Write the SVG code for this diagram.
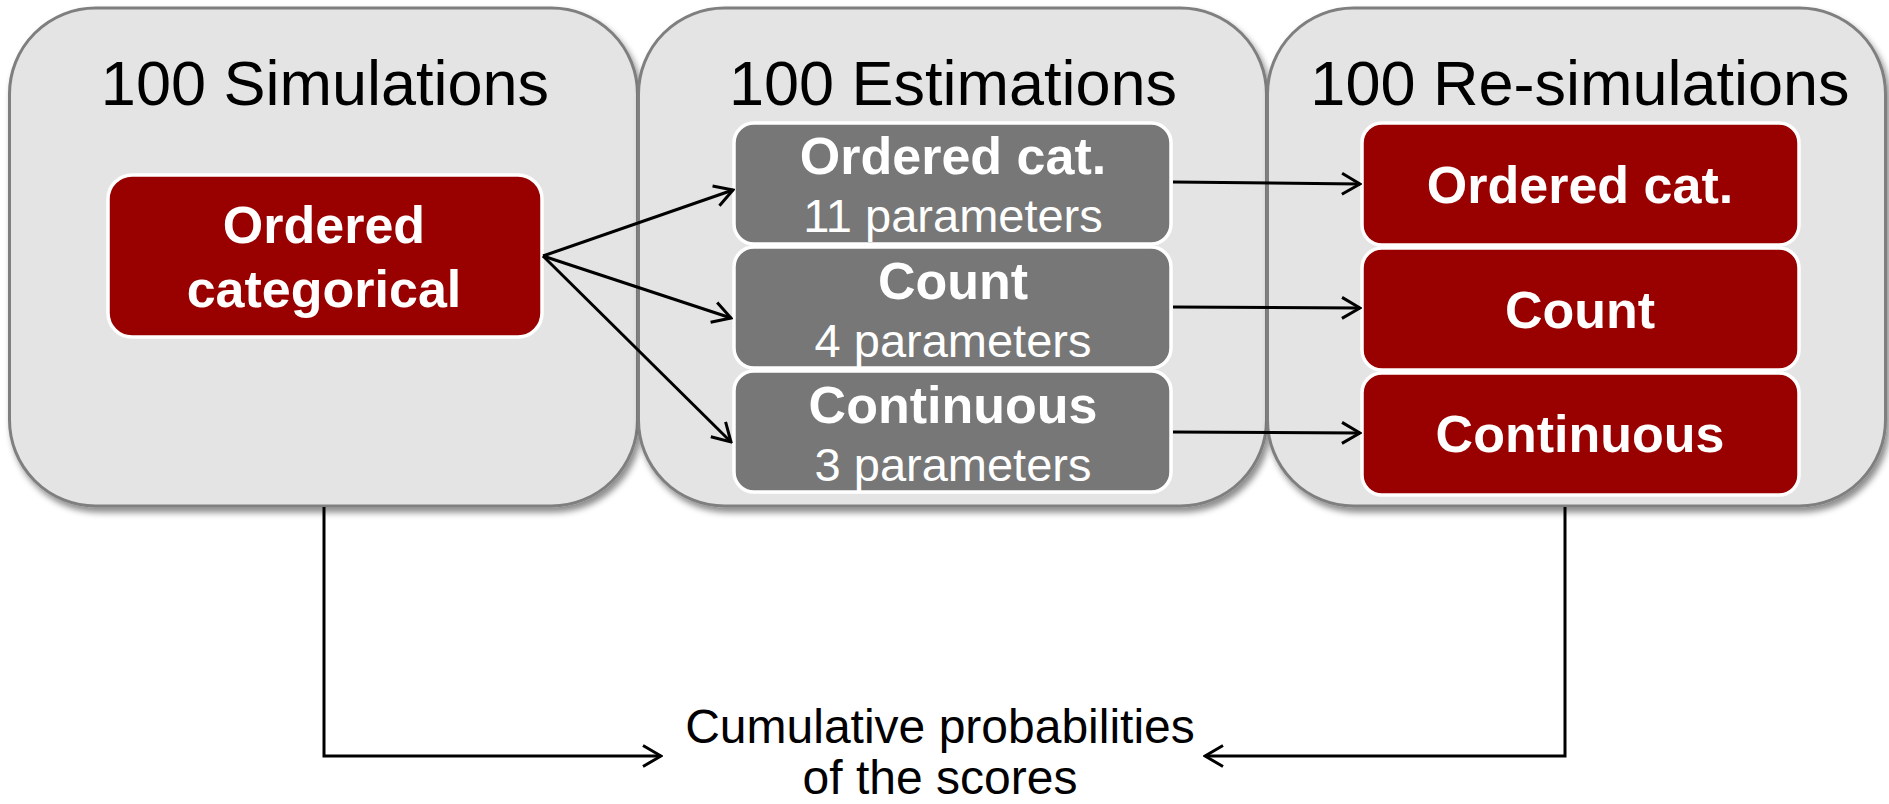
<svg xmlns="http://www.w3.org/2000/svg" width="1889" height="804" viewBox="0 0 1889 804">
  <style>
    .panel { fill: #e4e4e4; stroke: #7f7f7f; stroke-width: 3; }
    .title { font-family: "Liberation Sans", Arial, sans-serif; font-size: 63px; fill: #000; text-anchor: middle; }
    .red { fill: #990000; stroke: #ffffff; stroke-width: 3.5; }
    .gray { fill: #777777; stroke: #ffffff; stroke-width: 3.5; }
    .bold { font-family: "Liberation Sans", Arial, sans-serif; font-size: 52px; font-weight: bold; fill: #ffffff; text-anchor: middle; }
    .reg { font-family: "Liberation Sans", Arial, sans-serif; font-size: 47px; fill: #ffffff; text-anchor: middle; }
    .label { font-family: "Liberation Sans", Arial, sans-serif; font-size: 48px; fill: #000; text-anchor: middle; }
    .conn { stroke: #000; stroke-width: 3; fill: none; marker-end: url(#arrow); }
  </style>
  <defs>
    <filter id="shadow" x="-5%" y="-5%" width="115%" height="115%">
      <feDropShadow dx="3" dy="5" stdDeviation="3" flood-color="#000" flood-opacity="0.45"/>
    </filter>
    <marker id="arrow" markerUnits="userSpaceOnUse" viewBox="0 0 22 24" markerWidth="22" markerHeight="24" refX="20" refY="12" orient="auto">
      <path d="M2,1.5 L20,12 L2,22.5" fill="none" stroke="#000" stroke-width="3"/>
    </marker>
  </defs>
  <rect width="1889" height="804" fill="#ffffff"/>

  <g id="panel-simulations">
    <rect class="panel" x="9.5" y="8" width="628" height="498" rx="86" ry="86" filter="url(#shadow)"/>
    <text class="title" x="325" y="105">100 Simulations</text>
  </g>
  <g id="panel-estimations">
    <rect class="panel" x="638.5" y="8" width="628" height="498" rx="86" ry="86" filter="url(#shadow)"/>
    <text class="title" x="953" y="105">100 Estimations</text>
  </g>
  <g id="panel-resimulations">
    <rect class="panel" x="1267.5" y="8" width="618" height="498" rx="86" ry="86" filter="url(#shadow)"/>
    <text class="title" x="1580" y="105">100 Re-simulations</text>
  </g>

  <g id="sim-ordered-categorical">
    <rect class="red" x="108" y="175" width="434" height="162" rx="24" ry="24"/>
    <text class="bold" x="324" y="243">Ordered</text>
    <text class="bold" x="324" y="307">categorical</text>
  </g>

  <g id="est-ordered-cat">
    <rect class="gray" x="734" y="123" width="437" height="121" rx="20" ry="20"/>
    <text class="bold" x="953" y="174">Ordered cat.</text>
    <text class="reg" x="953" y="232">11 parameters</text>
  </g>
  <g id="est-count">
    <rect class="gray" x="734" y="247" width="437" height="121" rx="20" ry="20"/>
    <text class="bold" x="953" y="299">Count</text>
    <text class="reg" x="953" y="357">4 parameters</text>
  </g>
  <g id="est-continuous">
    <rect class="gray" x="734" y="371" width="437" height="121" rx="20" ry="20"/>
    <text class="bold" x="953" y="423">Continuous</text>
    <text class="reg" x="953" y="481">3 parameters</text>
  </g>

  <g id="resim-ordered-cat">
    <rect class="red" x="1362" y="123" width="437" height="122" rx="20" ry="20"/>
    <text class="bold" x="1580" y="203">Ordered cat.</text>
  </g>
  <g id="resim-count">
    <rect class="red" x="1362" y="248" width="437" height="122" rx="20" ry="20"/>
    <text class="bold" x="1580" y="328">Count</text>
  </g>
  <g id="resim-continuous">
    <rect class="red" x="1362" y="373" width="437" height="122" rx="20" ry="20"/>
    <text class="bold" x="1580" y="452">Continuous</text>
  </g>

  <g id="result-label">
    <text class="label" x="940" y="743">Cumulative probabilities</text>
    <text class="label" x="940" y="794">of the scores</text>
  </g>

  <g id="connectors">
    <line class="conn" x1="543" y1="256" x2="733" y2="190"/>
    <line class="conn" x1="543" y1="256" x2="731" y2="318"/>
    <line class="conn" x1="543" y1="256" x2="731" y2="442"/>
    <line class="conn" x1="1173" y1="182" x2="1360" y2="184"/>
    <line class="conn" x1="1173" y1="307" x2="1360" y2="308"/>
    <line class="conn" x1="1173" y1="432" x2="1360" y2="433"/>
    <polyline class="conn" points="324,507 324,756 661,756"/>
    <polyline class="conn" points="1565,507 1565,756 1205,756"/>
  </g>
</svg>
